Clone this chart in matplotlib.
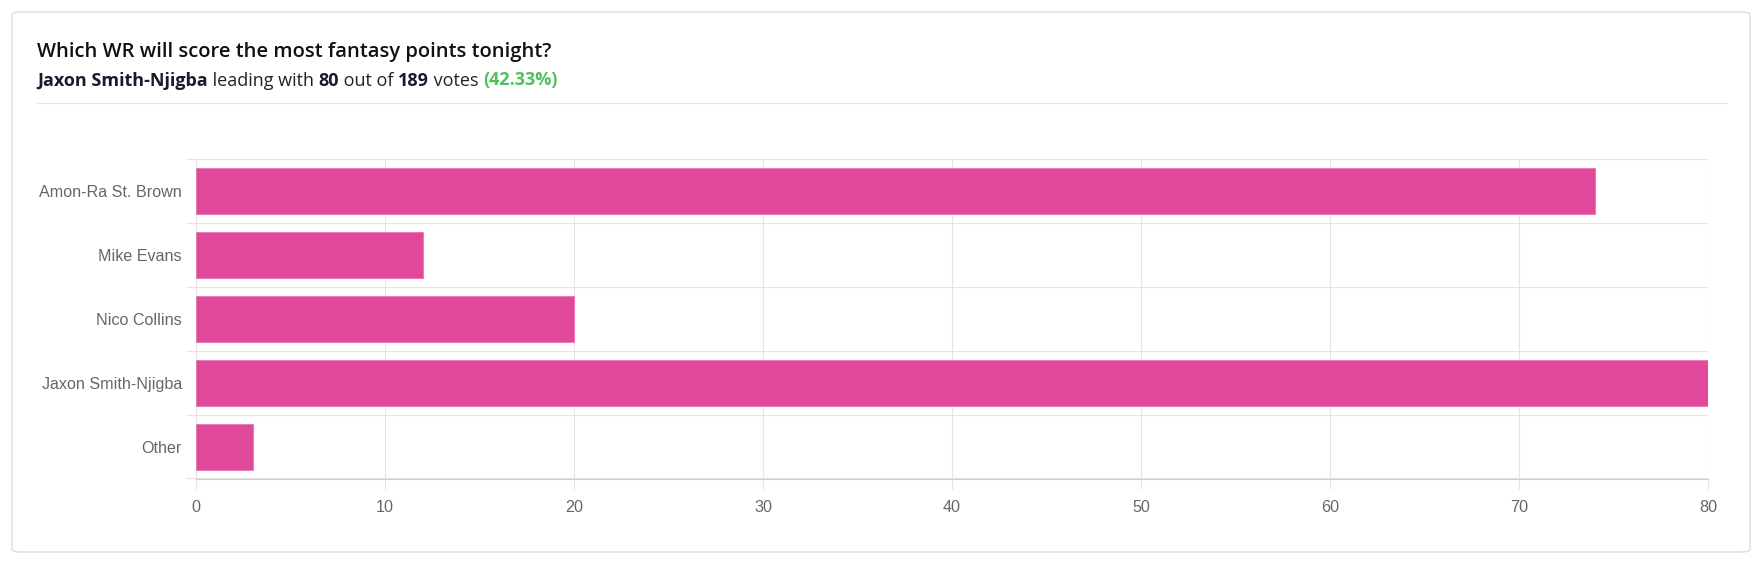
import matplotlib
matplotlib.use("Agg")
import matplotlib.pyplot as plt
from matplotlib.patches import FancyBboxPatch
from matplotlib.lines import Line2D
import numpy as np

# poll data
players = ["Amon-Ra St. Brown", "Mike Evans", "Nico Collins", "Jaxon Smith-Njigba", "Other"]
votes = [74, 12, 20, 80, 3]
x_ticks = [0, 10, 20, 30, 40, 50, 60, 70, 80]

title = "Which WR will score the most fantasy points tonight?"
leader = "Jaxon Smith-Njigba"
total = sum(votes)
lead_votes = max(votes)
pct = "(%.2f%%)" % (100.0 * lead_votes / total)

W, H = 1760, 562
fig = plt.figure(figsize=(W / 100, H / 100), dpi=100)
fig.patch.set_facecolor("white")

# pixel coords, origin top-left
def px(x, y):
    return x / W, 1 - y / H

# card outline
card = FancyBboxPatch((12 / W, 1 - 552 / H), (1750 - 12) / W, (552 - 12) / H,
                      boxstyle="round,pad=0,rounding_size=0.005",
                      transform=fig.transFigure, facecolor="none",
                      edgecolor="#dcdcdc", linewidth=1.0, zorder=-1)
fig.patches.append(card)

# separator under header
fig.lines.append(Line2D([37 / W, 1727 / W], [1 - 102.5 / H] * 2,
                        transform=fig.transFigure, color="#e3e3e3", linewidth=0.8, zorder=-1))

head_font = ["Open Sans", "DejaVu Sans"]
fig.text(*px(37, 57.5), title, fontsize=14.5, fontweight="semibold",
         family=head_font, color="#111111", va="baseline", ha="left")

# subtitle built from pieces
renderer = fig.canvas.get_renderer()
pieces = [(leader, "bold", "#1a1a2e"), (" leading with ", "normal", "#222222"),
          (str(lead_votes), "bold", "#1a1a2e"), (" out of ", "normal", "#222222"),
          (str(total), "bold", "#1a1a2e"), (" votes ", "normal", "#222222"),
          (pct, "bold", "#4fc05b")]
cx = 37
for txt, wt, col in pieces:
    t = fig.text(*px(cx, 85.5), txt, fontsize=13.0, fontweight=wt, family=head_font,
                 color=col, va="baseline", ha="left")
    bb = t.get_window_extent(renderer)
    cx += bb.width

# chart area
ax = fig.add_axes([196 / W, 1 - 478.5 / H, 1512 / W, 319.5 / H])
y = np.arange(len(players))
ax.barh(y, votes, height=0.72, color="#e04899", edgecolor="#ea7bb8", linewidth=0.8, zorder=3)

ax.set_xlim(0, 80)
ax.set_ylim(len(players) - 0.5, -0.5)
ax.set_xticks(x_ticks)
ax.set_xticklabels([str(v) for v in x_ticks])
ax.set_yticks(y)
ax.set_yticklabels(players)
ax.set_yticks(np.arange(len(players) + 1) - 0.5, minor=True)

ax.grid(axis="x", which="major", color="#e4e4e4", linewidth=0.8, zorder=0)
ax.grid(axis="y", which="minor", color="#e4e4e4", linewidth=0.8, zorder=0)
ax.tick_params(axis="x", which="major", length=7.2, width=0.8, color="#e4e4e4",
               pad=8.5, labelsize=11.6, labelcolor="#666666")
ax.tick_params(axis="y", which="major", length=0, pad=10, labelsize=11.6, labelcolor="#666666")
ax.tick_params(axis="y", which="minor", length=7.2, width=0.8, color="#e4e4e4")

for lab in ax.get_xticklabels() + ax.get_yticklabels():
    lab.set_family(["Liberation Sans", "DejaVu Sans"])

for s in ["top", "right"]:
    ax.spines[s].set_visible(False)
ax.spines["left"].set_color("#e4e4e4")
ax.spines["left"].set_linewidth(0.8)
ax.spines["bottom"].set_color("#cfcfcf")
ax.spines["bottom"].set_linewidth(0.8)
ax.set_facecolor("white")
ax.patch.set_alpha(0)

fig.savefig("out.png", dpi=100)
